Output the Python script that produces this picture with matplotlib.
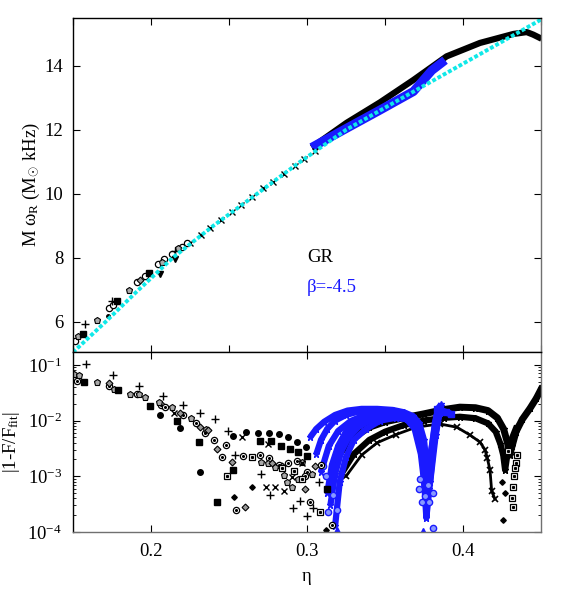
import numpy as np
import matplotlib
matplotlib.use("Agg")
import matplotlib.pyplot as plt
from matplotlib.ticker import MultipleLocator, LogLocator, NullFormatter

plt.rcParams['font.family'] = ['Liberation Serif', 'DejaVu Serif']
plt.rcParams['mathtext.fontset'] = 'custom'
plt.rcParams['mathtext.rm'] = 'Liberation Serif'
plt.rcParams['mathtext.it'] = 'Liberation Serif:italic'
plt.rcParams['font.size'] = 13.5

BLUE = '#1a1aff'
CYAN = '#10e8e8'

# ---- top panel: frequency vs eta ----
fit_eta = [0.15, 0.171, 0.19, 0.214, 0.24, 0.268, 0.295, 0.325, 0.36, 0.3975, 0.42, 0.45]
fit_val = [5.04, 6.0, 6.9, 8.0, 9.0, 10.0, 10.98, 12.0, 12.97, 14.0, 14.62, 15.45]

# dense GR sequence (black band) and beta=-4.5 sequence (blue band)
gr_band_eta = [0.303, 0.3254, 0.3468, 0.3682, 0.3895, 0.4109, 0.4323, 0.4408, 0.445, 0.4504]
gr_band_val = [11.45, 12.22, 12.86, 13.56, 14.3, 14.72, 15.0, 15.06, 14.98, 14.85]
bt_band_eta = [0.303, 0.3254, 0.3468, 0.3682, 0.38, 0.3885]
bt_band_val = [11.45, 12.05, 12.62, 13.2, 13.86, 14.18]

# scattered GR points (top)
top_circ = [(0.1513, 5.38), (0.1733, 6.43), (0.1758, 6.53), (0.1912, 7.24), (0.1962, 7.42),
            (0.2047, 7.80), (0.2083, 7.96), (0.2133, 8.12), (0.2197, 8.35), (0.2229, 8.46)]
top_pent = [(0.1534, 5.54), (0.1652, 6.06), (0.1861, 6.98), (0.2069, 7.88), (0.2175, 8.30)]
top_sq = [(0.1566, 5.61), (0.1784, 6.66), (0.199, 7.52)]
top_plus = [(0.1577, 5.93), (0.1748, 6.66), (0.2154, 8.20)]
top_dot = [(0.1726, 6.19)]
top_diam = [(0.193, 7.31)]
top_tri = [(0.2058, 7.49), (0.2154, 7.96)]
top_line = [(0.225, 8.45), (0.232, 8.70), (0.238, 8.92), (0.245, 9.17), (0.252, 9.44),
            (0.258, 9.66), (0.265, 9.91), (0.272, 10.17), (0.278, 10.38), (0.285, 10.63),
            (0.292, 10.87), (0.298, 11.08), (0.305, 11.33)]

# ---- bottom panel: residuals ----
bot_circ = [(0.1524, 0.052), (0.1733, 0.041), (0.1908, 0.0305), (0.2062, 0.019), (0.2088, 0.0178),
            (0.2203, 0.0125), (0.2288, 0.0089), (0.2346, 0.0059), (0.2404, 0.0044), (0.2455, 0.0022),
            (0.2481, 0.0036), (0.2545, 0.00025), (0.2592, 0.0023), (0.2699, 0.0024), (0.2758, 0.0021),
            (0.2822, 0.0016), (0.288, 0.0017), (0.2938, 0.0019), (0.30, 0.0012), (0.3019, 0.00035),
            (0.316, 0.000135), (0.309, 0.0016), (0.2985, 0.0010)]
bot_pent = [(0.1506, 0.069), (0.154, 0.066), (0.1656, 0.0495), (0.1763, 0.037), (0.1865, 0.0297),
            (0.1925, 0.0297), (0.196, 0.026), (0.2049, 0.0214), (0.2135, 0.0178), (0.2254, 0.011),
            (0.2353, 0.007), (0.2705, 0.0018), (0.2748, 0.0017), (0.2795, 0.00145), (0.2838, 0.00143),
            (0.2855, 0.00105), (0.2875, 0.00079), (0.2907, 0.00065), (0.294, 0.0009), (0.2965, 0.0018),
            (0.303, 0.0011)]
bot_sq = [(0.157, 0.0495), (0.1788, 0.0356), (0.1994, 0.0183), (0.2165, 0.0099), (0.2305, 0.0042),
          (0.2425, 0.00034), (0.2528, 0.0013), (0.2699, 0.0043), (0.2767, 0.0043), (0.2833, 0.0035),
          (0.2891, 0.0031), (0.2944, 0.0027), (0.3126, 0.0006), (0.300, 0.0023)]
bot_plus = [(0.1583, 0.103), (0.1754, 0.066), (0.1925, 0.0425), (0.2075, 0.0277), (0.2203, 0.019),
            (0.2314, 0.0139), (0.241, 0.0106), (0.2496, 0.0066), (0.2538, 0.0024), (0.2703, 0.0011),
            (0.2763, 0.00046), (0.2912, 0.00027), (0.2955, 0.00036), (0.3041, 0.00027),
            (0.3002, 0.00019), (0.3079, 0.00078)]
bot_dot = [(0.206, 0.0125), (0.2186, 0.0074), (0.2314, 0.0012), (0.2524, 0.0053), (0.2609, 0.0062),
           (0.2688, 0.0059), (0.2758, 0.0060), (0.2822, 0.0058), (0.288, 0.0051), (0.2938, 0.0041),
           (0.2992, 0.0033)]
bot_cross = [(0.2147, 0.0136), (0.2581, 0.005), (0.2752, 0.0038), (0.2737, 0.00065), (0.2795, 0.00065),
             (0.2853, 0.00054), (0.2905, 0.00098), (0.297, 0.0017)]
bot_diam = [(0.1729, 0.047), (0.2186, 0.0136), (0.2314, 0.0076), (0.2365, 0.0067), (0.2421, 0.0031),
            (0.2517, 0.0018), (0.2603, 0.000285), (0.2775, 0.0017), (0.284, 0.0015), (0.2985, 0.0006),
            (0.305, 0.0015)]
bot_bsq = [(0.2485, 0.001), (0.265, 0.0022), (0.284, 0.0014), (0.2915, 0.00125), (0.3083, 0.00023),
           (0.2965, 0.0009), (0.4344, 0.0024), (0.434, 0.0017), (0.4333, 0.00138), (0.4327, 0.001),
           (0.4318, 0.00065), (0.4312, 0.0004), (0.4318, 0.00028), (0.429, 0.0028)]
bot_sdiam = [(0.2532, 0.00043), (0.2645, 0.00065), (0.3122, 0.00011), (0.4258, 0.000166),
             (0.4248, 0.00079), (0.4269, 0.00051)]

# dense GR residual sequences
k1_eta = [0.316, 0.322, 0.330, 0.340, 0.350, 0.362, 0.375, 0.388, 0.398, 0.408, 0.416, 0.422,
          0.426, 0.4285, 0.430, 0.4315, 0.434, 0.438, 0.443, 0.447, 0.451]
k1_val = [0.0014, 0.0028, 0.005, 0.0076, 0.0095, 0.0112, 0.0132, 0.0158, 0.0174, 0.017, 0.0151,
          0.0112, 0.0071, 0.004, 0.0024, 0.0035, 0.0063, 0.0105, 0.0166, 0.025, 0.041]
k2_eta = [0.322, 0.33, 0.34, 0.35, 0.362, 0.375, 0.388, 0.398, 0.408, 0.416, 0.421, 0.424,
          0.4258, 0.427, 0.4285, 0.431, 0.4345]
k2_val = [0.0011, 0.0025, 0.0045, 0.0063, 0.0083, 0.01, 0.0112, 0.0117, 0.011, 0.0089, 0.0063,
          0.0038, 0.0024, 0.0013, 0.0025, 0.0045, 0.0079]
k3_eta = [0.325, 0.335, 0.345, 0.357, 0.37, 0.385, 0.396, 0.4045, 0.4109, 0.4141, 0.4156,
          0.4173, 0.4184, 0.4205]
k3_val = [0.001, 0.0024, 0.004, 0.0056, 0.0076, 0.0087, 0.0076, 0.0055, 0.0041, 0.003, 0.0021,
          0.0013, 0.00054, 0.00039]

# dense beta=-4.5 residual sequences
b1_eta = [0.302, 0.306, 0.311, 0.318, 0.326, 0.335, 0.345, 0.355, 0.362, 0.368, 0.372, 0.375,
          0.3775, 0.3795, 0.382, 0.384, 0.386]
b1_val = [0.005, 0.0071, 0.0095, 0.0126, 0.0151, 0.0162, 0.0162, 0.0155, 0.0141, 0.012, 0.0089,
          0.0045, 0.001, 0.0025, 0.009, 0.0165, 0.0195]
b2_eta = [0.313, 0.316, 0.32, 0.325, 0.332, 0.34, 0.35, 0.36, 0.366, 0.371, 0.374, 0.3765,
          0.379, 0.381, 0.3835, 0.3855]
b2_val = [0.0005, 0.0016, 0.0035, 0.0063, 0.0095, 0.012, 0.0138, 0.0138, 0.012, 0.0079, 0.0032,
          0.00025, 0.0012, 0.004, 0.0105, 0.016]
b3_eta = [0.318, 0.321, 0.325, 0.33, 0.338, 0.347, 0.357, 0.364, 0.369, 0.373, 0.3755, 0.379,
          0.3825, 0.385]
b3_val = [0.000126, 0.0008, 0.0022, 0.0045, 0.0071, 0.01, 0.0112, 0.0105, 0.0071, 0.0025, 0.00063,
          0.0008, 0.0055, 0.0135]
b4_eta = [0.306, 0.309, 0.313, 0.318, 0.325, 0.334, 0.344, 0.355, 0.363, 0.369, 0.3735, 0.3765,
          0.3795, 0.383, 0.386]
b4_val = [0.0025, 0.0045, 0.0071, 0.01, 0.0126, 0.0148, 0.0155, 0.0151, 0.0132, 0.01, 0.005,
          0.00126, 0.0028, 0.012, 0.0185]
b6_eta = [0.309, 0.314, 0.32, 0.328, 0.337, 0.347, 0.357, 0.364, 0.37, 0.3745, 0.377, 0.3795,
          0.3825, 0.385]
b6_val = [0.0012, 0.0035, 0.0065, 0.0098, 0.0125, 0.014, 0.0138, 0.0125, 0.0085, 0.0028, 0.0004,
          0.0018, 0.008, 0.0155]
b7_eta = [0.315, 0.318, 0.322, 0.327, 0.334, 0.343, 0.352, 0.361, 0.367, 0.3715, 0.3745, 0.3765,
          0.3785, 0.381, 0.384]
b7_val = [0.0003, 0.0011, 0.0028, 0.0052, 0.0082, 0.0108, 0.0122, 0.0118, 0.0095, 0.0055, 0.0016,
          0.00018, 0.0006, 0.0032, 0.011]
b5_eta = [0.3835, 0.386, 0.389, 0.392]
b5_val = [0.0158, 0.0151, 0.0141, 0.0132]
blue_pts = [(0.3137, 0.00023), (0.319, 0.00025), (0.3168, 0.00046), (0.3105, 0.0015),
            (0.3125, 0.001), (0.381, 0.00012), (0.3735, 0.00035), (0.372, 0.0006),
            (0.3755, 0.00045), (0.3775, 0.0007), (0.3725, 0.0009), (0.3785, 0.00035),
            (0.3805, 0.0005)]
blue_tri = [(0.319, 0.000108), (0.3746, 0.000104)]


def pts(ax, data, **kw):
    x = [p[0] for p in data]
    y = [p[1] for p in data]
    ax.plot(x, y, linestyle='none', **kw)


fig = plt.figure(figsize=(5.64, 5.92), dpi=100)
ax1 = fig.add_axes([0.1294, 0.4054, 0.8298, 0.5642])
ax2 = fig.add_axes([0.1294, 0.1014, 0.8298, 0.3040])

# top panel
ax1.plot(gr_band_eta, gr_band_val, color='k', lw=4.5, solid_capstyle='butt')
ax1.plot(bt_band_eta, bt_band_val, color=BLUE, lw=6.5, solid_capstyle='butt')
pts(ax1, top_line, marker='x', ms=4.5, mew=1, color='k')
pts(ax1, top_circ, marker='o', ms=4.5, mfc='white', mec='k', mew=0.9)
pts(ax1, top_pent, marker='p', ms=5, mfc='#aaaaaa', mec='k', mew=0.8)
pts(ax1, top_sq, marker='s', ms=4, color='k')
pts(ax1, top_plus, marker='+', ms=5.5, mew=1, color='k')
pts(ax1, top_dot, marker='o', ms=2.5, color='k')
pts(ax1, top_diam, marker='D', ms=3.5, mfc='#999999', mec='k', mew=0.8)
pts(ax1, top_tri, marker='v', ms=4, color='k')
ax1.plot(fit_eta, fit_val, color=CYAN, lw=2.8, dashes=(1, 0.55), dash_capstyle='butt')

ax1.text(0.3, 8.0, 'GR', color='k', fontsize=13.5, va='center')
ax1.text(0.3, 7.06, 'β=-4.5', color=BLUE, fontsize=13.5, va='center')

ax1.set_xlim(0.15, 0.45)
ax1.set_ylim(5.05, 15.5)
ax1.xaxis.set_major_locator(MultipleLocator(0.05))
ax1.yaxis.set_major_locator(MultipleLocator(2))
ax1.tick_params(direction='in', top=True, right=True, labelbottom=False,
                length=5, width=0.8, pad=7)
ax1.set_ylabel(r'M ω$_{\mathrm{R}}$ (M$_{\odot}$ kHz)', fontsize=13.5)
ax1.yaxis.set_label_coords(-0.066, 0.5)

# bottom panel
ax2.plot(k1_eta, k1_val, color='k', lw=5, marker='*', ms=5, solid_capstyle='butt')
ax2.plot(k2_eta, k2_val, color='k', lw=4.5, marker='*', ms=5, solid_capstyle='butt')
ax2.plot(k3_eta, k3_val, color='k', lw=2.0, marker='x', ms=4, mew=1.2)
for be, bv in [(b1_eta, b1_val), (b4_eta, b4_val), (b6_eta, b6_val), (b2_eta, b2_val),
               (b7_eta, b7_val), (b3_eta, b3_val)]:
    ax2.plot(be, bv, color=BLUE, lw=4.5, marker='*', ms=5, solid_capstyle='butt')
ax2.plot(b5_eta, b5_val, color=BLUE, lw=5, marker='s', ms=4, solid_capstyle='butt')
pts(ax2, blue_pts, marker='o', ms=4.5, mfc='#8899ff', mec=BLUE, mew=1)
pts(ax2, blue_tri, marker='^', ms=5, color=BLUE)

pts(ax2, bot_circ, marker='o', ms=4.5, mfc='white', mec='k', mew=0.9)
pts(ax2, bot_circ, marker='o', ms=1.2, color='k')
pts(ax2, bot_pent, marker='p', ms=5, mfc='#aaaaaa', mec='k', mew=0.8)
pts(ax2, bot_sq, marker='s', ms=4, color='k')
pts(ax2, bot_plus, marker='+', ms=5.5, mew=1, color='k')
pts(ax2, bot_dot, marker='o', ms=4, color='k')
pts(ax2, bot_cross, marker='x', ms=4.5, mew=1, color='k')
pts(ax2, bot_diam, marker='D', ms=3.5, mfc='#999999', mec='k', mew=0.8)
pts(ax2, bot_bsq, marker='s', ms=5, mfc='white', mec='k', mew=0.9)
pts(ax2, bot_bsq, marker='s', ms=1.2, color='k')
pts(ax2, bot_sdiam, marker='D', ms=2.8, color='k')

ax2.set_xlim(0.15, 0.45)
ax2.set_yscale('log')
ax2.set_ylim(1e-4, 0.17)
ax2.xaxis.set_major_locator(MultipleLocator(0.1))
ax2.yaxis.set_major_locator(LogLocator(base=10, numticks=10))
ax2.yaxis.set_minor_locator(LogLocator(base=10, subs=np.arange(2, 10), numticks=10))
ax2.yaxis.set_minor_formatter(NullFormatter())
ax2.tick_params(which='major', direction='in', top=True, right=True,
                length=5, width=0.8, pad=8)
ax2.tick_params(which='minor', direction='in', left=True, right=True, length=2.5, width=0.6)
ax2.set_xticks([0.2, 0.3, 0.4])
ax2.set_xticklabels(['0.2', '0.3', '0.4'])
ax2.set_ylabel(r'|1-F/F$_{\mathrm{fit}}$|', fontsize=13.5)
ax2.yaxis.set_label_coords(-0.109, 0.5)
ax2.set_xlabel('η', fontsize=13.5)
ax2.xaxis.set_label_coords(0.5, -0.2)

for ax in (ax1, ax2):
    for s in ax.spines.values():
        s.set_linewidth(1.0)
    ax.spines['right'].set_color('#707070')
    ax.spines['bottom'].set_color('#707070')

fig.savefig('out.png', dpi=100)
